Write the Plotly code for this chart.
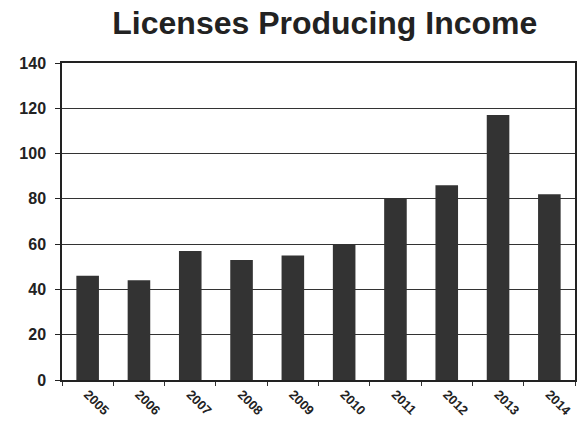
import plotly.graph_objects as go

years = ["2005", "2006", "2007", "2008", "2009", "2010", "2011", "2012", "2013", "2014"]
licenses = [46, 44, 57, 53, 55, 60, 80, 86, 117, 82]
y_ticks = [0, 20, 40, 60, 80, 100, 120, 140]

fig = go.Figure(go.Bar(
    x=years, y=licenses,
    marker=dict(color="#333333", line=dict(width=0)),
    width=0.44,
))

fig.update_layout(
    width=580, height=428,
    margin=dict(l=62, r=5, t=63, b=48, autoexpand=False),
    paper_bgcolor="white", plot_bgcolor="white",
    font=dict(family="Liberation Sans, Arial, sans-serif", color="#222222", weight="bold"),
    title=dict(text="Licenses Producing Income", x=0.56, xanchor="center", y=0.973, yanchor="top",
               font=dict(size=32, family="Liberation Sans, Arial, sans-serif", weight="bold", color="#222222")),
    showlegend=False,
)
fig.update_xaxes(
    type="category", tickangle=45, tickson="boundaries",
    ticks="outside", ticklen=4, tickcolor="#333",
    showline=True, linecolor="#222", linewidth=1.5, mirror=True,
    showgrid=False, automargin=False,
    tickfont=dict(size=13, weight="bold"),
)
fig.update_yaxes(
    range=[0, 140], tickvals=y_ticks,
    ticks="outside", ticklen=5, tickcolor="#222",
    showline=True, linecolor="#222", linewidth=1.5, mirror=True,
    showgrid=True, gridcolor="#333", gridwidth=1.2,
    zeroline=False, automargin=False, ticklabelstandoff=6,
    tickfont=dict(size=16, weight="bold"),
)

fig.write_html("out.html", config={"displayModeBar": False},
               post_script="document.body.style.margin='0';")
